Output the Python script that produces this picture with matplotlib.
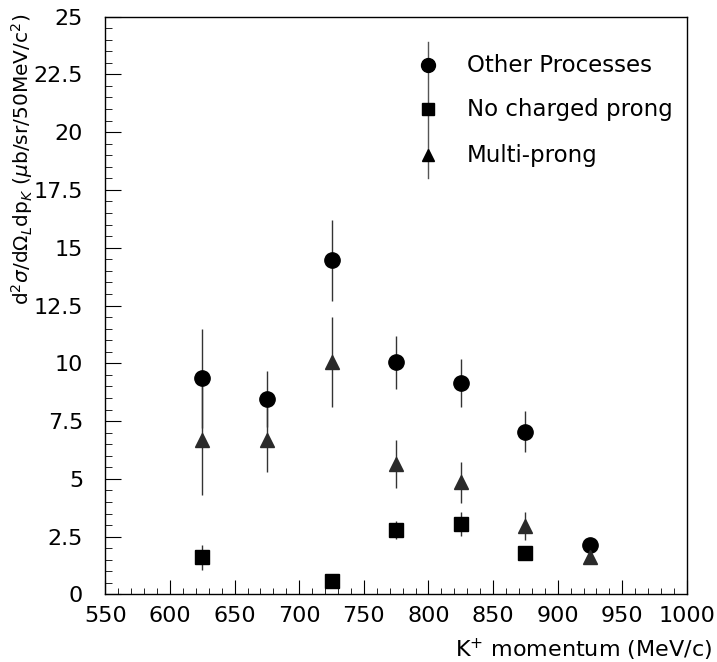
import numpy as np
import matplotlib
matplotlib.use("Agg")
import matplotlib.pyplot as plt
from matplotlib.ticker import MultipleLocator

plt.rcParams['font.family'] = ['DejaVu Sans']
plt.rcParams['mathtext.fontset'] = 'dejavusans'

# K+ momentum bins (MeV/c)
p_other = [625, 675, 725, 775, 825, 875, 925]
other = [9.35, 8.45, 14.45, 10.05, 9.15, 7.05, 2.15]
other_err = [2.15, 1.2, 1.75, 1.15, 1.05, 0.9, 0.15]

p_noprong = [625, 725, 775, 825, 875]
noprong = [1.6, 0.6, 2.8, 3.05, 1.8]
noprong_err = [0.55, 0.1, 0.4, 0.5, 0.2]

p_multi = [625, 675, 725, 775, 825, 875, 925]
multi = [6.7, 6.7, 10.05, 5.65, 4.85, 2.95, 1.6]
multi_err = [2.4, 1.4, 1.95, 1.05, 0.88, 0.6, 0.1]

labels = ['Other Processes', 'No charged prong', 'Multi-prong']

fig = plt.figure(figsize=(7.17, 6.62), dpi=100)
ax = fig.add_axes([0.147, 0.102, 0.811, 0.873])

err_kw = dict(ls='none', ecolor='#333333', elinewidth=1.0, capsize=0)
ax.errorbar(p_other, other, yerr=other_err, fmt='o', color='black', ms=11, **err_kw)
ax.errorbar(p_noprong, noprong, yerr=noprong_err, fmt='s', color='black', ms=10.5, **err_kw)
ax.errorbar(p_multi, multi, yerr=multi_err, fmt='^', color='#2a2a2a', ms=10.5, **err_kw)

# hand-placed key in data coordinates
key_x, key_rows = 800, [22.9, 21.0, 19.0]
ax.plot([key_x, key_x], [18.0, 23.9], color='#555555', lw=1.0)
for mk, ms, y, lab in zip(['o', 's', '^'], [10, 9, 8.5], key_rows, labels):
    ax.plot(key_x, y, marker=mk, color='black', ms=ms)
    ax.text(830, y, lab, fontsize=16.5, va='center', ha='left')

ax.set_xlim(550, 1000)
ax.set_ylim(0, 25)
ax.xaxis.set_major_locator(MultipleLocator(50))
ax.xaxis.set_minor_locator(MultipleLocator(10))
ax.yaxis.set_minor_locator(MultipleLocator(0.5))
ax.set_yticks(np.arange(0, 25.1, 2.5))
ax.set_yticklabels(['0', '2.5', '5', '7.5', '10', '12.5', '15', '17.5', '20', '22.5', '25'])

ax.tick_params(which='both', direction='in', top=False, right=False, labelsize=16)
ax.tick_params(axis='x', which='major', length=10, pad=8)
ax.tick_params(axis='x', which='minor', length=4.5)
ax.tick_params(axis='y', which='major', length=11.5, pad=16)
ax.tick_params(axis='y', which='minor', length=5)
for s in ax.spines.values():
    s.set_linewidth(1.0)

ax.set_xlabel(r'K$^{+}$ momentum (MeV/c)', fontsize=16, ha='right', va='center')
ax.xaxis.set_label_coords(1.043, -0.096)
ax.set_ylabel(r'd$^{2}\sigma$/d$\Omega_{L}$dp$_{K}$ ($\mu$b/sr/50MeV/c$^{2}$)',
              fontsize=14.5, ha='right', va='center')
ax.yaxis.set_label_coords(-0.143, 1.005)

fig.savefig('out.png', dpi=100)
